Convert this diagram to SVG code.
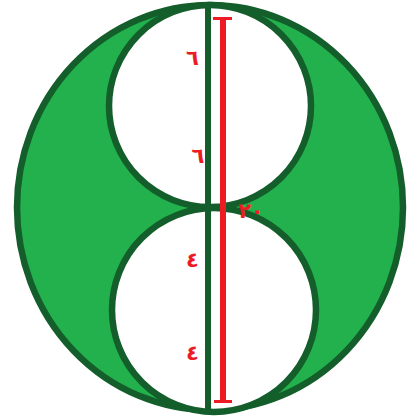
<svg xmlns="http://www.w3.org/2000/svg" width="417" height="416" viewBox="0 0 417 416">
<style>
.dk{stroke:#135e2a;stroke-width:6.5}
.red{stroke:#ed1c24;fill:none}
.lbl{fill:#ed1c24;font-family:"DejaVu Sans",sans-serif;font-weight:bold;font-size:21px}
</style>
<rect width="417" height="416" fill="#ffffff"/>
<g id="outer"><ellipse cx="210" cy="207.5" rx="193" ry="202.5" fill="#22b14c" class="dk"/></g>
<g id="top-circle"><circle cx="210" cy="106" r="101" fill="#ffffff" class="dk"/></g>
<g id="bottom-circle"><circle cx="214" cy="310" r="102" fill="#ffffff" class="dk"/></g>
<g id="connectors">
<line x1="208" y1="5" x2="208" y2="410" stroke="#135e2a" stroke-width="6"/>
<line x1="223" y1="18" x2="223" y2="403" class="red" stroke-width="6"/>
<line x1="213" y1="18.5" x2="232" y2="18.5" class="red" stroke-width="3"/>
<line x1="214" y1="401.5" x2="232" y2="401.5" class="red" stroke-width="3"/>
</g>
<g id="labels">
<text x="192.5" y="65" class="lbl" text-anchor="middle">٦</text>
<text x="198" y="163" class="lbl" text-anchor="middle">٦</text>
<text x="192.5" y="267" class="lbl" text-anchor="middle">٤</text>
<text x="192.5" y="360" class="lbl" text-anchor="middle">٤</text>
<text x="251" y="218" class="lbl" text-anchor="middle">٢٠</text>
</g>
</svg>
